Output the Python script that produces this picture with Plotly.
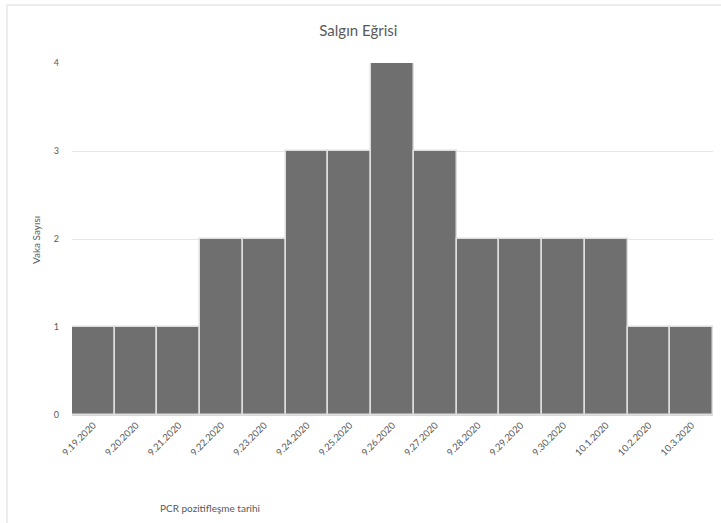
import plotly.graph_objects as go

# Epidemic curve: daily case counts by PCR positivity date
dates = ["9.19.2020", "9.20.2020", "9.21.2020", "9.22.2020", "9.23.2020",
         "9.24.2020", "9.25.2020", "9.26.2020", "9.27.2020", "9.28.2020",
         "9.29.2020", "9.30.2020", "10.1.2020", "10.2.2020", "10.3.2020"]
cases = [1, 1, 1, 2, 2, 3, 3, 4, 3, 2, 2, 2, 2, 1, 1]
y_ticks = [0, 1, 2, 3, 4]

title_text = "Salgın Eğrisi"
x_title = "PCR pozitifleşme tarihi"
y_title = "Vaka Sayısı"

FONT = "Lato"
TEXT_GRAY = "#595959"

fig = go.Figure(
    go.Bar(
        x=dates,
        y=cases,
        marker=dict(color="#6f6f6f", line=dict(color="#dedede", width=1.5)),
        width=1.0,
    )
)

fig.update_layout(
    width=721,
    height=523,
    margin=dict(l=72, r=8, t=63, b=108),
    paper_bgcolor="white",
    plot_bgcolor="white",
    bargap=0,
    showlegend=False,
    font=dict(family=FONT, color=TEXT_GRAY),
    title=dict(
        text=title_text,
        x=0.497,
        xanchor="center",
        y=0.942,
        yanchor="middle",
        font=dict(family=FONT, size=15, color=TEXT_GRAY),
    ),
    xaxis=dict(
        type="category",
        tickangle=-45,
        tickfont=dict(family=FONT, size=9.5, color=TEXT_GRAY),
        showgrid=False,
        showline=True,
        linecolor="#d9d9d9",
        ticks="",
    ),
    yaxis=dict(
        range=[0, 4],
        tickvals=y_ticks,
        tickfont=dict(family=FONT, size=9, color=TEXT_GRAY),
        showgrid=True,
        gridcolor="#e6e6e6",
        gridwidth=1,
        zeroline=False,
        ticklabelstandoff=12,
    ),
    annotations=[
        dict(
            text=x_title, xref="paper", yref="paper",
            x=(210 - 72) / 641, y=-(508 - 415) / 352,
            xanchor="center", yanchor="middle", showarrow=False,
            font=dict(family=FONT, size=10, color=TEXT_GRAY),
        ),
        dict(
            text=y_title, xref="paper", yref="paper",
            x=-(72 - 36) / 641, y=(415 - 240) / 352,
            xanchor="center", yanchor="middle", showarrow=False, textangle=-90,
            font=dict(family=FONT, size=10, color=TEXT_GRAY),
        ),
    ],
    shapes=[
        # outer chart frame
        dict(type="rect", xref="paper", yref="paper",
             x0=-(72 - 7) / 641, x1=(721 - 72 + 20) / 641,
             y0=-(530 - 415) / 352, y1=(415 - 5) / 352,
             line=dict(color="#e8e8e8", width=1.5), layer="below"),
    ],
)

fig.write_html("out.html")
